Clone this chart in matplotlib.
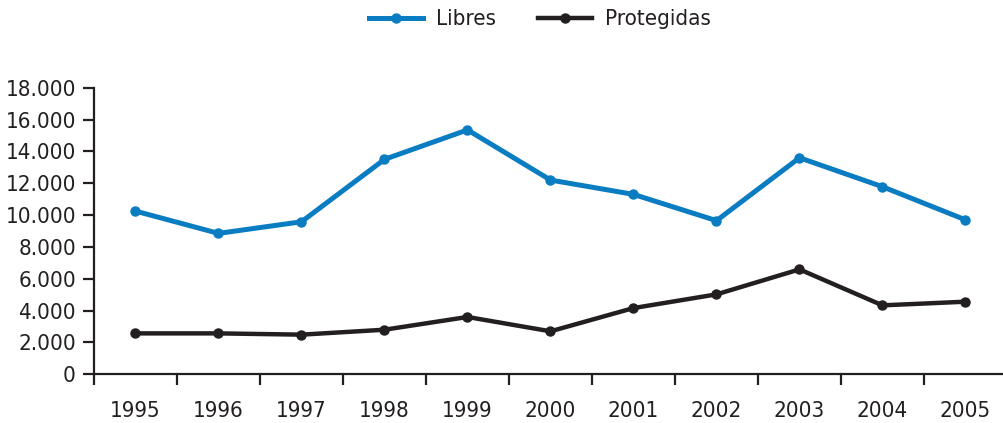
import matplotlib
matplotlib.use("Agg")
import matplotlib.pyplot as plt
from matplotlib.ticker import FuncFormatter, FixedLocator

plt.rcParams['font.family'] = ['DejaVu Sans']
plt.rcParams['font.stretch'] = 'condensed'

anios = ['1995', '1996', '1997', '1998', '1999', '2000', '2001', '2002', '2003', '2004', '2005']
libres = [10250, 8850, 9580, 13500, 15350, 12200, 11300, 9650, 13600, 11780, 9700]
protegidas = [2570, 2570, 2490, 2800, 3600, 2700, 4160, 5020, 6590, 4330, 4560]

azul = '#0a7dc2'
negro = '#231f20'

fig = plt.figure(figsize=(10.04, 4.23), dpi=100)
ax = fig.add_axes([94 / 1004, 1 - 374.3 / 423, 913 / 1004, 286.6 / 423])

x = list(range(len(anios)))
ax.plot(x, libres, color=azul, lw=3.6, marker='o', ms=6.5, label='Libres')
ax.plot(x, protegidas, color=negro, lw=3.2, marker='o', ms=6.5, label='Protegidas')

ax.set_xlim(-0.5, len(anios) - 0.5)
ax.set_ylim(0, 18000)
ax.set_yticks(range(0, 18001, 2000))
ax.yaxis.set_major_formatter(FuncFormatter(lambda v, p: f"{int(v):,}".replace(",", ".")))

# ticks del eje x entre categorias, etiquetas en el centro
ax.xaxis.set_major_locator(FixedLocator([i - 0.5 for i in range(len(anios) + 1)]))
ax.set_xticklabels([])
ax.set_xticks(x, minor=True)
ax.set_xticklabels(anios, minor=True)
ax.tick_params(axis='x', which='minor', length=0, pad=19, labelsize=16, labelcolor=negro)
ax.tick_params(axis='x', which='major', length=8, width=1.6, color=negro)
ax.tick_params(axis='y', length=8, width=1.6, color=negro, labelsize=16, labelcolor=negro, pad=5)

for s in ['top', 'right']:
    ax.spines[s].set_visible(False)
for s in ['left', 'bottom']:
    ax.spines[s].set_linewidth(1.6)
    ax.spines[s].set_color(negro)

fig.legend(loc='upper center', bbox_to_anchor=(0.538, 1.025), ncol=2, frameon=False,
           fontsize=16, handlelength=2.4, handletextpad=0.6, columnspacing=1.9,
           labelcolor=negro)

fig.savefig('out.png', dpi=100)
